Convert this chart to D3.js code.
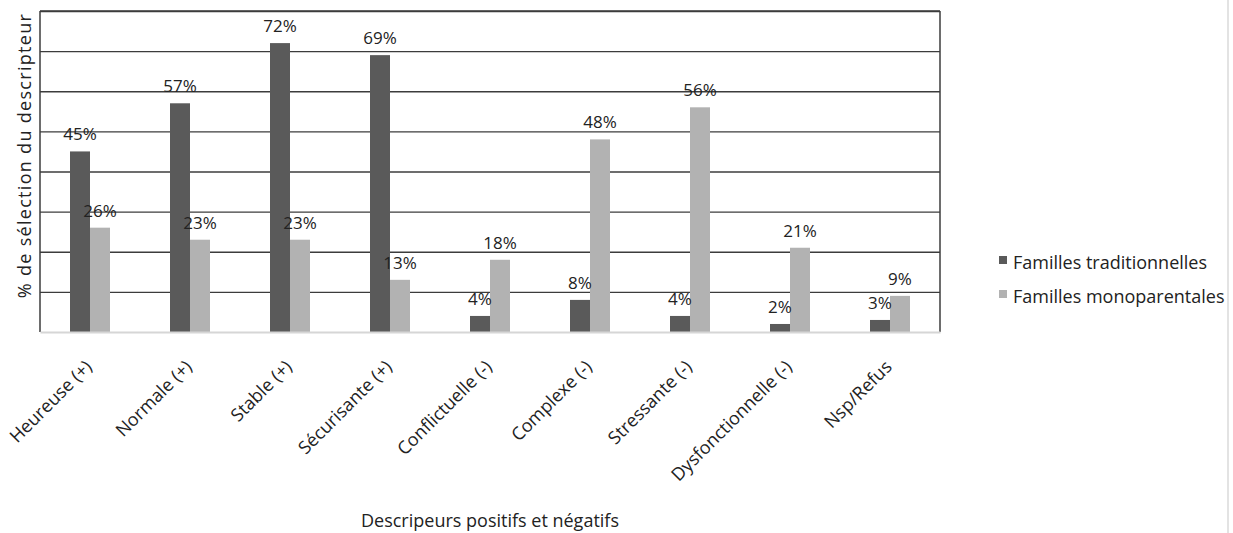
<!DOCTYPE html>
<html>
<head>
<meta charset="utf-8">
<script src="https://cdn.jsdelivr.net/npm/d3@7/dist/d3.min.js"></script>
<style>
  body { margin: 0; background: #fff; }
  svg text { font-family: "Open Sans", "Noto Sans", sans-serif; fill: #222; }
</style>
</head>
<body>
<svg id="chart" width="1233" height="533"></svg>
<script>
// categories and series
const categories = ['Heureuse (+)', 'Normale (+)', 'Stable (+)', 'Sécurisante (+)',
  'Conflictuelle (-)', 'Complexe (-)', 'Stressante (-)', 'Dysfonctionnelle (-)', 'Nsp/Refus']
const seriesNames = ['Familles traditionnelles', 'Familles monoparentales']
const traditionnelles = [45, 57, 72, 69, 4, 8, 4, 2, 3]
const monoparentales = [26, 23, 23, 13, 18, 48, 56, 21, 9]
const gridTicks = [0, 10, 20, 30, 40, 50, 60, 70, 80]
const colors = ['#5a5a5a', '#b2b2b2']

const svg = d3.select('#chart')
const margin = {top: 11, left: 40}
const width = 900, height = 321

const g = svg.append('g').attr('transform', 'translate(' + margin.left + ',' + margin.top + ')')

const x = d3.scaleBand().domain(categories).range([0, width])
const x1 = d3.scaleBand().domain(seriesNames).range([x.bandwidth() / 2 - 20, x.bandwidth() / 2 + 20])
const y = d3.scaleLinear().domain([0, 80]).range([height, 0])

// horizontal gridlines
g.append('g')
  .call(d3.axisLeft(y).tickValues(gridTicks.slice(1)).tickSize(-width).tickFormat(''))
  .call(s => s.select('.domain').remove())
  .selectAll('line').attr('stroke', '#3c3c3c').attr('stroke-width', 1.3)

// frame: left, right dark, bottom light
g.append('line').attr('x1', 0).attr('x2', 0).attr('y1', 0).attr('y2', height)
  .attr('stroke', '#3c3c3c').attr('stroke-width', 1.5)
g.append('line').attr('x1', width).attr('x2', width).attr('y1', 0).attr('y2', height)
  .attr('stroke', '#3c3c3c').attr('stroke-width', 1.5)

const rows = categories.map((c, i) => ({cat: c, vals: [traditionnelles[i], monoparentales[i]]}))

const grp = g.selectAll('.cat')
  .data(rows)
  .enter().append('g')
  .attr('class', 'cat')
  .attr('transform', d => 'translate(' + x(d.cat) + ',0)')

grp.selectAll('rect')
  .data(d => d.vals.map((v, k) => ({key: seriesNames[k], v: v, k: k})))
  .enter().append('rect')
  .attr('x', d => x1(d.key))
  .attr('width', x1.bandwidth())
  .attr('y', d => y(d.v))
  .attr('height', d => height - y(d.v))
  .attr('fill', d => colors[d.k])

grp.selectAll('text.val')
  .data(d => d.vals.map((v, k) => ({key: seriesNames[k], v: v, k: k})))
  .enter().append('text')
  .attr('class', 'val')
  .attr('x', d => x1(d.key) + x1.bandwidth() / 2)
  .attr('y', d => y(d.v) - 11)
  .attr('text-anchor', 'middle')
  .style('font-size', '17px')
  .text(d => d.v + '%')

// bottom axis
const xAxis = g.append('g')
  .attr('transform', 'translate(0,' + height + ')')
  .call(d3.axisBottom(x).tickSize(0).tickPadding(0))
xAxis.select('.domain').attr('stroke', '#d6d6d6').attr('stroke-width', 2)
xAxis.selectAll('text')
  .attr('text-anchor', 'end')
  .attr('dy', 0)
  .attr('transform', 'translate(3,36) rotate(-45)')
  .style('font-size', '18px')
  .style('fill', '#222')

// top border over the bars
g.append('line').attr('x1', 0).attr('x2', width).attr('y1', 0).attr('y2', 0)
  .attr('stroke', '#3c3c3c').attr('stroke-width', 1.5)

// axis titles
svg.append('text')
  .attr('transform', 'translate(31,' + (margin.top + height / 2 - 16) + ') rotate(-90)')
  .attr('text-anchor', 'middle')
  .style('font-size', '18px')
  .style('letter-spacing', '1.3px')
  .text('% de sélection du descripteur')

svg.append('text')
  .attr('x', 490).attr('y', 527)
  .attr('text-anchor', 'middle')
  .style('font-size', '18px')
  .text('Descripeurs positifs et négatifs')

// legend
const legend = svg.append('g').attr('transform', 'translate(999,256)')
seriesNames.forEach((name, i) => {
  legend.append('rect').attr('x', 0).attr('y', i * 34).attr('width', 8).attr('height', 8).attr('fill', colors[i])
  legend.append('text').attr('x', 14).attr('y', i * 34 + 13).style('font-size', '18px').text(name)
})

// faint vertical rule at the right edge
svg.append('line').attr('x1', 1228).attr('x2', 1228).attr('y1', 0).attr('y2', 533)
  .attr('stroke', '#e3e3e3').attr('stroke-width', 2)
</script>
</body>
</html>
